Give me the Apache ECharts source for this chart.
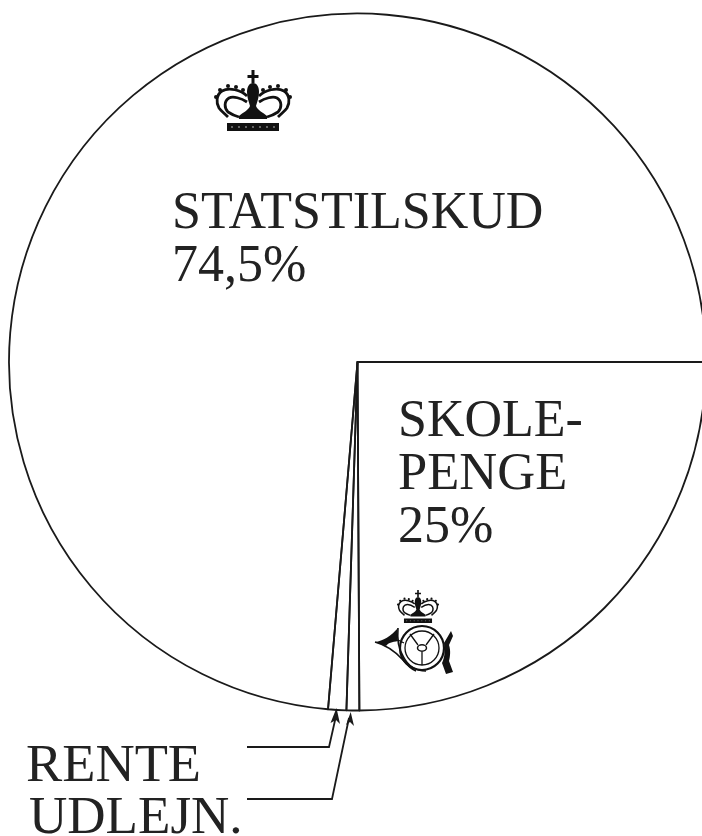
<!DOCTYPE html>
<html>
<head>
<meta charset="utf-8">
<style>
  html, body { margin: 0; padding: 0; background: #fff; }
  #chart { width: 702px; height: 836px; }
</style>
<script src="https://cdn.jsdelivr.net/npm/echarts@6/dist/echarts.min.js"></script>
</head>
<body>
<div id="chart"></div>
<script>
// slices run clockwise from 3 o'clock; the two thin ones are drawn wider than their real share
const categories = ['Skolepenge', 'Udlejn.', 'Rente', 'Statstilskud']
const values = [25.2, 0.6, 0.85, 74.5]

const statsLabel = ['STATSTILSKUD', '74,5%']
const skoleLabel = ['SKOLE-', 'PENGE', '25%']
const thinLabels = ['RENTE', 'UDLEJN.']

const ink = '#222'
const lineInk = '#1a1a1a'
const font = '"Liberation Serif", "Times New Roman", serif'

// y is the text baseline; zrender anchors the bottom of the line box
const label = (text, x, y, size, stretch = 1) => ({
  type: 'text',
  x,
  y: y + Math.round(size * 0.21),
  scaleX: stretch,
  silent: true,
  style: { text, fill: ink, font: `${size}px ${font}`, textAlign: 'left', verticalAlign: 'bottom' }
})

// leader line from the label to the rim, with a small arrow head
const leader = (points, head) => [
  { type: 'polyline', silent: true, shape: { points }, style: { stroke: lineInk, fill: null, lineWidth: 1.8 } },
  { type: 'polygon', silent: true, shape: { points: head }, style: { fill: lineInk } }
]

// crown emblem, drawn around x = 0 with the top of the cross at y = 0
echarts.graphic.registerShape('crownFill', echarts.graphic.extendPath(
  'M-1.5 0H1.5V5H5.5V8H1.5V13H-1.5V8H-5.5V5H-1.5Z' +
  'M0 13C4 13 6 17 6 22C6 28 4 32 3 36C5 41 10 42 14 46V49H-14V46C-10 42 -5 41 -3 36C-4 32 -6 28 -6 22C-6 17 -4 13 0 13Z' +
  'M-26 53H26V61H-26Z'
))
echarts.graphic.registerShape('crownLine', echarts.graphic.extendPath(
  'M-6 26C-12 20 -24 17 -31 21C-37 25 -37 33 -34 38C-32 41 -29 43 -25 47' +
  'M-6 32C-12 28 -20 26 -24 28C-29 31 -29 38 -25 42C-22 44 -18 46 -14 47' +
  'M6 26C12 20 24 17 31 21C37 25 37 33 34 38C32 41 29 43 25 47' +
  'M6 32C12 28 20 26 24 28C29 31 29 38 25 42C22 44 18 46 14 47'
))
const crownPearls = [[-33, 20], [-25, 16], [-17, 17], [-10, 20], [-37, 27], [33, 20], [25, 16], [17, 17], [10, 20], [37, 27]]
const bandSpecks = [-21, -14, -7, 0, 7, 14, 21]

const crown = (x, y, scale) => ({
  type: 'group',
  x,
  y,
  scaleX: scale,
  scaleY: scale,
  silent: true,
  children: [
    { type: 'crownFill', style: { fill: '#111' } },
    { type: 'crownLine', style: { fill: null, stroke: '#111', lineWidth: 2.8 } },
    ...crownPearls.map(p => ({ type: 'circle', shape: { cx: p[0], cy: p[1], r: 2 }, style: { fill: '#111' } })),
    ...bandSpecks.map(s => ({ type: 'circle', shape: { cx: s, cy: 57, r: 1.1 }, style: { fill: '#777' } }))
  ]
})

echarts.graphic.registerShape('hornBell', echarts.graphic.extendPath(
  'M375 642C383 641 391 636 398 628C397 633 397 637 398 641C392 642 388 643 386 646C382 645 378 643 375 642Z'
))
echarts.graphic.registerShape('hornTube', echarts.graphic.extendPath(
  'M398 628C397 640 399 650 403 656C408 666 416 671 426 671M375 642C386 645 395 651 403 660C407 665 411 669 416 671'
))
echarts.graphic.registerShape('hornSpokes', echarts.graphic.extendPath(
  'M418 645L410 634M426 645L434 634M422 652V665M398 640L404 643'
))
echarts.graphic.registerShape('hornTassel', echarts.graphic.extendPath(
  'M444 643L451 631L453 636L449 645C451 651 450 657 449 661L453 672L446 674L442 663C445 657 445 650 444 643Z'
))

const postHorn = {
  type: 'group',
  silent: true,
  children: [
    { type: 'hornBell', style: { fill: '#111' } },
    { type: 'hornTube', style: { fill: null, stroke: '#111', lineWidth: 1.6 } },
    // wheel
    { type: 'circle', shape: { cx: 422, cy: 648, r: 22 }, style: { fill: null, stroke: '#111', lineWidth: 2.2 } },
    { type: 'circle', shape: { cx: 422, cy: 648, r: 17 }, style: { fill: null, stroke: '#111', lineWidth: 1.3 } },
    { type: 'ellipse', shape: { cx: 422, cy: 648, rx: 4.5, ry: 3.2 }, style: { fill: null, stroke: '#111', lineWidth: 1.5 } },
    { type: 'hornSpokes', style: { fill: null, stroke: '#111', lineWidth: 1.3 } },
    { type: 'hornTassel', style: { fill: '#111' } }
  ]
}

const chart = echarts.init(document.getElementById('chart'), null, { renderer: 'canvas' })
const option = {
  animation: false,
  backgroundColor: '#fff',
  series: [
    {
      name: 'Indtægter',
      type: 'pie',
      center: [357.5, 362],
      radius: [0, 348.5],
      startAngle: 0,
      clockwise: true,
      silent: true,
      avoidLabelOverlap: false,
      label: { show: false },
      labelLine: { show: false },
      // no fill, otherwise the slices paint over the text and emblems
      itemStyle: { color: 'transparent', borderColor: lineInk, borderWidth: 1.8 },
      data: categories.map((name, i) => ({ name, value: values[i] }))
    }
  ],
  graphic: [
    label(statsLabel[0], 172, 229, 52),
    label(statsLabel[1], 172, 282, 52),
    label(skoleLabel[0], 398, 437, 52),
    label(skoleLabel[1], 398, 490, 52, 1.01),
    label(skoleLabel[2], 398, 543, 52),
    label(thinLabels[0], 26, 782, 52, 1.045),
    label(thinLabels[1], 29, 834, 52, 1.02),
    ...leader([[247, 747], [329, 747], [336, 716]], [[336.5, 708], [340, 724], [336, 720], [330.5, 723]]),
    ...leader([[247, 799], [332, 799], [349, 718]], [[350.7, 712], [354, 726], [350, 722], [346, 725]]),
    crown(253, 70, 1),
    crown(418, 590, 0.54),
    postHorn
  ]
}
chart.setOption(option)
</script>
</body>
</html>
